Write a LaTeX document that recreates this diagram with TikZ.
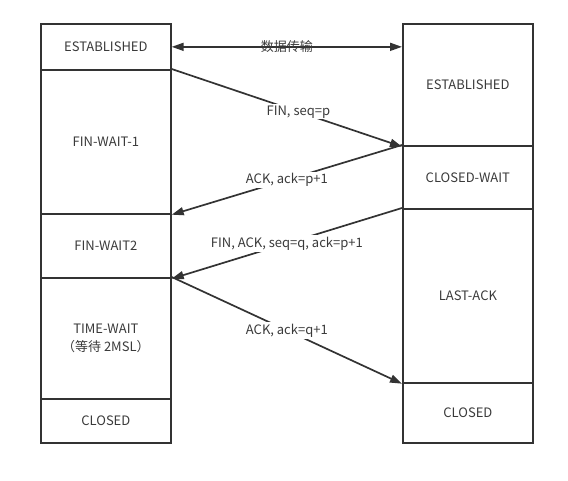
\documentclass[tikz,border=0pt]{standalone}
\usepackage{fontspec}
\setmainfont{Noto Sans CJK SC}
\usetikzlibrary{arrows.meta}
\definecolor{ln}{HTML}{333333}
\definecolor{tx}{HTML}{3a3a3a}
\tikzset{
  statebox/.style={draw=ln, line width=1.7pt, text=tx, anchor=north west, inner sep=0pt,
    font=\fontsize{13}{18}\selectfont, align=center, minimum width=130pt},
  msg/.style={draw=ln, line width=1.7pt, -{Triangle[length=12pt,width=8pt]}},
  lbl/.style={fill=white, text=tx, inner sep=1.5pt, font=\fontsize{13}{15}\selectfont}
}
\begin{document}
\begin{tikzpicture}[x=1pt,y=-1pt]
\useasboundingbox (0,0) rectangle (568,481);
% left column
\node[statebox, minimum height=46pt]  (estL) at (40,23)  {ESTABLISHED};
\node[statebox, minimum height=144pt] (fw1)  at (40,69)  {FIN-WAIT-1};
\node[statebox, minimum height=64pt]  (fw2)  at (40,213) {FIN-WAIT2};
\node[statebox, minimum height=121pt] (tw)   at (40,277) {TIME-WAIT\\（等待 2MSL）};
\node[statebox, minimum height=44pt]  (clL)  at (40,398) {CLOSED};
% right column
\node[statebox, minimum height=122pt] (estR) at (402,23)  {ESTABLISHED};
\node[statebox, minimum height=63pt]  (cw)   at (402,145) {CLOSED-WAIT};
\node[statebox, minimum height=174pt] (la)   at (402,208) {LAST-ACK};
\node[statebox, minimum height=60pt]  (clR)  at (402,382) {CLOSED};
% messages
\draw[draw=ln, line width=1.7pt, {Triangle[length=12pt,width=8pt]}-{Triangle[length=12pt,width=8pt]}]
  (estL.east) -- node[text=tx, inner sep=0pt, font=\fontsize{13}{15}\selectfont] (dt) {数据传输} (estL.east -| estR.west);
\draw[msg] (fw1.north east) -- node[lbl, pos=0.55] (m1) {FIN, seq=p} (estR.south west);
\draw[msg] (cw.north west) -- node[lbl, pos=0.5] (m2) {ACK, ack=p+1} (fw1.south east);
\draw[msg] (la.north west) -- node[lbl, pos=0.5] (m3) {FIN, ACK, seq=q, ack=p+1} (fw2.south east);
\draw[msg] (tw.north east) -- node[lbl, pos=0.5] (m4) {ACK, ack=q+1} (la.south west);
\end{tikzpicture}
\end{document}
